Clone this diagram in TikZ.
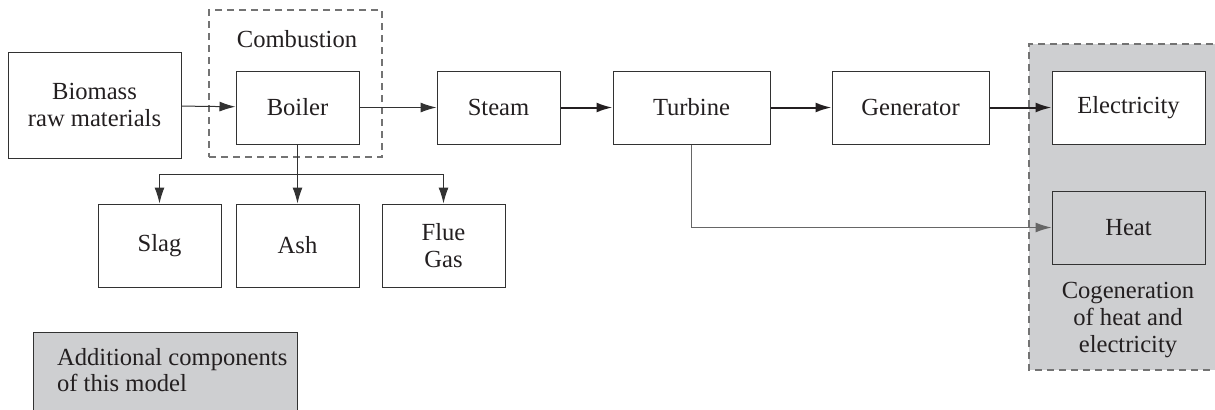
\documentclass[tikz,border=0pt]{standalone}
\usepackage{fontspec}
\setmainfont{Liberation Serif}
\usetikzlibrary{arrows.meta}
\definecolor{boxgray}{RGB}{206,207,209}
\definecolor{ink}{RGB}{35,31,32}
\definecolor{edge}{RGB}{50,50,50}
\tikzset{
  every node/.style={font=\fontsize{12.3}{13.4}\selectfont, text=ink},
  blk/.style={draw=edge, line width=0.5pt, inner sep=0pt, align=center, minimum height=36.5pt},
  thin/.style={draw=edge, line width=0.5pt, -{Latex[length=8pt,width=5pt]}},
  thick/.style={draw=ink, line width=1pt, -{Latex[length=8pt,width=5pt]}},
  grayarr/.style={draw=gray!80!black, line width=0.6pt, -{Latex[length=8pt,width=5pt]}},
  dashbox/.style={draw=gray!90!black, line width=0.6pt, dash pattern=on 3.5pt off 2.5pt}
}
\begin{document}
\begin{tikzpicture}[x=0.5pt,y=-0.5pt]
\useasboundingbox (0,0) rectangle (1215,409);
\clip (0,0) rectangle (1215,409);
% gray regions
\fill[boxgray] (1029,44) rectangle (1225,370);
\draw[dashbox] (1225,44) -- (1029,44) -- (1029,370) -- (1225,370);
\fill[boxgray] (33,332) rectangle (297,420);
\draw[draw=edge, line width=0.5pt] (33,420) -- (33,332) -- (297,332) -- (297,420);
\node[anchor=west, align=left] (addl) at (50,370) {Additional components\\of this model};
% combustion group
\node[dashbox, minimum width=86.5pt, minimum height=73.5pt, inner sep=0pt] (comb) at (295.5,83.5) {};
\node (combl) at (297,39) {Combustion};
% main nodes
\node[blk, minimum width=86.5pt, minimum height=53pt] (bio) at (94.5,105) {Biomass\\raw materials};
\node[blk, minimum width=61.5pt] (boiler) at (297.5,107.5) {Boiler};
\node[blk, minimum width=61.5pt] (steam) at (498.5,107.5) {Steam};
\node[blk, minimum width=78.5pt] (turb) at (691.5,107.5) {Turbine};
\node[blk, minimum width=78.5pt] (gen) at (910.5,107.5) {Generator};
\node[blk, fill=white, minimum width=76.5pt] (elec) at (1128.5,107.5) {Electricity};
\node[blk, fill=boxgray, minimum width=76.5pt] (heat) at (1128.5,227.5) {Heat};
\node[align=center] (cogen) at (1128,320) {Cogeneration\\of heat and\\electricity};
\node[blk, minimum width=61.5pt, minimum height=41.5pt] (slag) at (159.5,245.5) {Slag};
\node[blk, minimum width=61.5pt, minimum height=41.5pt] (ash) at (297.5,245.5) {Ash};
\node[blk, minimum width=61.5pt, minimum height=41.5pt] (flue) at (443.5,245.5) {Flue\\Gas};
% connectors
\coordinate (br) at (297.5,174);
\draw[thin] (bio) -- (boiler);
\draw[thin] (boiler) -- (steam);
\draw[thick] (steam) -- (turb);
\draw[thick] (turb) -- (gen);
\draw[thick] (gen) -- (elec);
\draw[grayarr] (turb.south) |- (heat.west);
\draw[draw=edge, line width=0.5pt] (boiler.south) -- (br);
\draw[thin] (br) -| (slag.north);
\draw[thin] (br) -- (ash.north);
\draw[thin] (br) -| (flue.north);
\end{tikzpicture}
\end{document}
